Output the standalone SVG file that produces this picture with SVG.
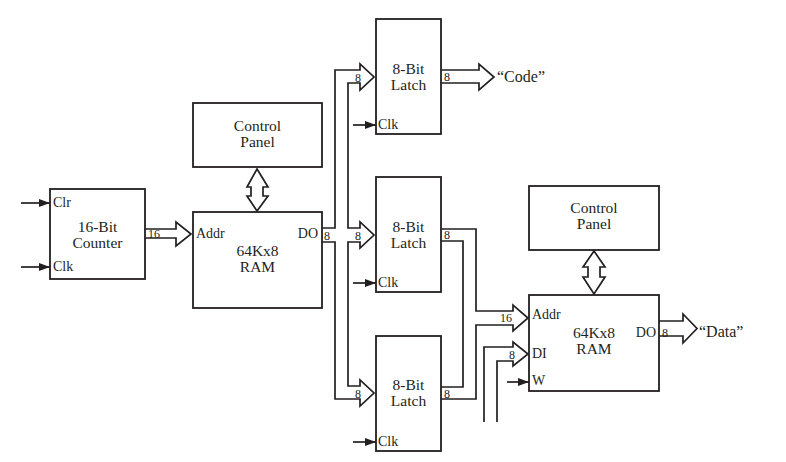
<svg xmlns="http://www.w3.org/2000/svg" width="786" height="462" viewBox="0 0 786 462">
<style>
.box{fill:#fff;stroke:#231f20;stroke-width:1.8}
.bus{fill:#fff;stroke:#231f20;stroke-width:1.7;stroke-linejoin:miter}
.wire{fill:none;stroke:#231f20;stroke-width:1.7}
text{font-family:'Liberation Serif','DejaVu Serif',serif;fill:#231f20}
.t{font-size:15.5px;text-anchor:middle}
.p{font-size:14px}
.n{font-size:12px}
</style>
<defs>
<marker id="ah" markerWidth="11" markerHeight="8" refX="11" refY="4" orient="auto" markerUnits="userSpaceOnUse">
<path d="M0,0 L11,4 L0,8 Z" fill="#231f20"/>
</marker>
</defs>
<rect width="786" height="462" fill="#fff"/>
<g id="connectors">
<path class="bus" d="M145,229 H176 V222 L191,234 L176,246 V238 H145"/>
<path class="bus" d="M247,187 L257,169 L268,187 H263 V196 H268 L257,211 L247,196 H251 V187 Z"/>
<path class="bus" d="M583,267 L594,251 L605,267 H600 V277 H605 L594,294 L583,277 H588 V267 Z"/>
<path class="bus" d="M322,228 H335 V70 H360 V64 L374,77 L360,90 V83 H348 V228 H360 V222 L374,235 L360,248 V242 H348 V386 H360 V380 L374,393 L360,406 V399 H335 V242 H322"/>
<path class="bus" d="M441,70 H479 V64 L494,77 L479,90 V83 H441"/>
<path class="bus" d="M441,229 H476 V311 H513 V305 L528,318 L513,331 V325 H476 V399 H441"/>
<path class="wire" d="M441,241 H463 V387 H441"/>
<path class="bus" d="M484,422 V347 H513 V342 L528,354 L513,366 V361 H497 V422"/>
<path class="bus" d="M659,321 H683 V314 L697,328.5 L683,343 V336 H659"/>
<line class="wire" x1="21" y1="203" x2="50" y2="203" marker-end="url(#ah)"/>
<line class="wire" x1="21" y1="267" x2="50" y2="267" marker-end="url(#ah)"/>
<line class="wire" x1="353" y1="125" x2="376" y2="125" marker-end="url(#ah)"/>
<line class="wire" x1="353" y1="283" x2="376" y2="283" marker-end="url(#ah)"/>
<line class="wire" x1="353" y1="442" x2="376" y2="442" marker-end="url(#ah)"/>
<line class="wire" x1="507" y1="382" x2="529" y2="382" marker-end="url(#ah)"/>
<text class="n" x="148" y="238">16</text>
<text class="n" x="324" y="240">8</text>
<text class="n" x="355" y="240">8</text>
<text class="n" x="355" y="82">8</text>
<text class="n" x="355" y="398">8</text>
<text class="n" x="444" y="81">8</text>
<text class="n" x="444" y="239">8</text>
<text class="n" x="444" y="398">8</text>
<text class="n" x="500" y="322">16</text>
<text class="n" x="509" y="359">8</text>
<text class="n" x="662" y="337">8</text>
<text x="497" y="82" font-size="16">“Code”</text>
<text x="699" y="337" font-size="16">“Data”</text>
</g>
<g id="counter">
<rect class="box" x="50" y="189" width="95" height="90"/>
<text class="p" x="53" y="207">Clr</text>
<text class="p" x="53" y="271">Clk</text>
<text class="t" x="97.5" y="232">16-Bit</text>
<text class="t" x="97.5" y="248">Counter</text>
</g>
<g id="panel1">
<rect class="box" x="193" y="103" width="129" height="64"/>
<text class="t" x="257.5" y="131">Control</text>
<text class="t" x="257.5" y="147">Panel</text>
</g>
<g id="ram1">
<rect class="box" x="193" y="212" width="129" height="96"/>
<text class="p" x="196" y="238">Addr</text>
<text class="p" x="318" y="238" text-anchor="end">DO</text>
<text class="t" x="257.5" y="256">64Kx8</text>
<text class="t" x="257.5" y="272">RAM</text>
</g>
<g id="latch1">
<rect class="box" x="376" y="19" width="65" height="115"/>
<text class="t" x="408.5" y="74">8-Bit</text>
<text class="t" x="408.5" y="90">Latch</text>
<text class="p" x="378" y="129">Clk</text>
</g>
<g id="latch2">
<rect class="box" x="376" y="177" width="65" height="115"/>
<text class="t" x="408.5" y="232">8-Bit</text>
<text class="t" x="408.5" y="248">Latch</text>
<text class="p" x="378" y="287">Clk</text>
</g>
<g id="latch3">
<rect class="box" x="376" y="336" width="65" height="115"/>
<text class="t" x="408.5" y="390">8-Bit</text>
<text class="t" x="408.5" y="406">Latch</text>
<text class="p" x="378" y="446">Clk</text>
</g>
<g id="panel2">
<rect class="box" x="529" y="186" width="130" height="64"/>
<text class="t" x="594" y="213">Control</text>
<text class="t" x="594" y="229">Panel</text>
</g>
<g id="ram2">
<rect class="box" x="529" y="295" width="130" height="96"/>
<text class="p" x="532" y="319">Addr</text>
<text class="p" x="532" y="358">DI</text>
<text class="p" x="532" y="385">W</text>
<text class="p" x="656" y="337" text-anchor="end">DO</text>
<text class="t" x="594" y="338">64Kx8</text>
<text class="t" x="594" y="354">RAM</text>
</g>
</svg>
